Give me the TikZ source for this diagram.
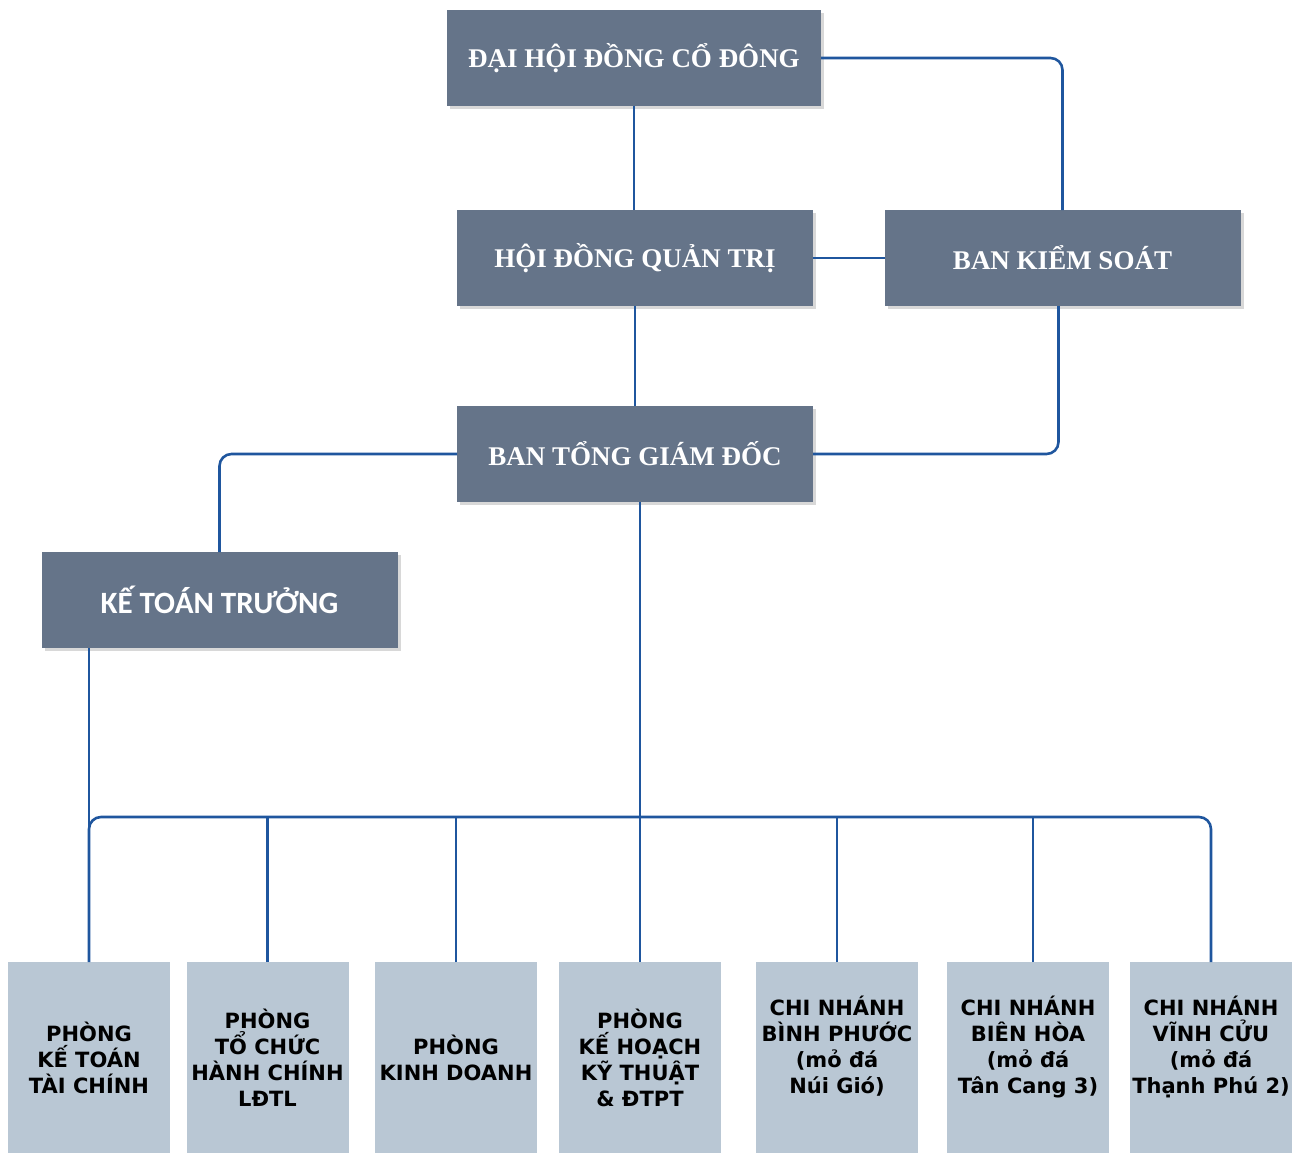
\documentclass[tikz,border=0pt]{standalone}
\usepackage{fontspec}
\setmainfont{Liberation Serif}
\newfontfamily\labelfont{Carlito}
\newfontfamily\deptfont{DejaVu Sans}
\usepackage{tikz}
\usetikzlibrary{shadows}
\usetikzlibrary{calc}
\definecolor{boxdark}{RGB}{101,116,137}
\definecolor{boxlight}{RGB}{185,199,212}
\definecolor{linkblue}{RGB}{31,86,158}
\tikzstyle{topbox} = [rectangle, minimum width=356pt, minimum height=96pt, inner sep=0pt, outer sep=0pt, text centered, fill=boxdark, text=white, drop shadow={shadow xshift=3pt, shadow yshift=-3pt, fill=black!30}, font=\bfseries\fontsize{27}{31}\selectfont]
\tikzstyle{lowbox} = [rectangle, minimum width=162pt, minimum height=191pt, inner sep=0pt, outer sep=0pt, align=center, fill=boxlight, text=black, font=\deptfont\bfseries\fontsize{21}{26}\selectfont]
\tikzstyle{line} = [draw=linkblue, line width=2.6pt, rounded corners=12pt]

\begin{document}
\begin{tikzpicture}[x=1pt, y=-1pt]

    \useasboundingbox (0,0) rectangle (1298,1153);

    % upper levels
    \node (meeting) [topbox, minimum width=374pt] at (634,58) {ĐẠI HỘI ĐỒNG CỔ ĐÔNG};
    \node (board) [topbox] at (635,258) {HỘI ĐỒNG QUẢN TRỊ};
    \node (control) [topbox] at (1062.5,258) {BAN KIỂM SOÁT};
    \node (director) [topbox] at (635,454) {BAN TỔNG GIÁM ĐỐC};
    \node (accountant) [topbox, font=\labelfont\bfseries\fontsize{31}{35}\selectfont] at (219.5,600) {KẾ TOÁN TRƯỞNG};

    % departments and branches
    \node (dept1) [lowbox] at (89,1057.5) {PHÒNG\\KẾ TOÁN\\TÀI CHÍNH};
    \node (dept2) [lowbox] at (267.5,1057.5) {PHÒNG\\TỔ CHỨC\\HÀNH CHÍNH\\LĐTL};
    \node (dept3) [lowbox] at (456,1057.5) {PHÒNG\\KINH DOANH};
    \node (dept4) [lowbox] at (640,1057.5) {PHÒNG\\KẾ HOẠCH\\KỸ THUẬT\\\& ĐTPT};
    \node (branch1) [lowbox] at (837,1057.5) {CHI NHÁNH\\BÌNH PHƯỚC\\(mỏ đá\\Núi Gió)\\\mbox{}};
    \node (branch2) [lowbox] at (1028,1057.5) {CHI NHÁNH\\BIÊN HÒA\\(mỏ đá\\Tân Cang 3)\\\mbox{}};
    \node (branch3) [lowbox] at (1211,1057.5) {CHI NHÁNH\\VĨNH CỬU\\(mỏ đá\\Thạnh Phú 2)\\\mbox{}};

    \coordinate (bus) at (640,817);

    \draw [line] (meeting.south) -- (meeting.south |- board.north);
    \draw [line] (meeting.east) -| (control.north);
    \draw [line] (board.east) -- (control.west);
    \draw [line] (board.south) -- (director.north);
    \draw [line] ([xshift=-4pt]control.south) |- (director.east);
    \draw [line] (director.west) -| (accountant.north);
    \draw [line] (director.south -| dept4.north) -- (dept4.north);
    \draw [line] (accountant.south -| dept1.north) -- (dept1.north);

    \draw [line] (dept1.north) |- (bus) -| (branch3.north);
    \draw [line] (dept2.north) -- (dept2.north |- bus);
    \draw [line] (dept3.north) -- (dept3.north |- bus);
    \draw [line] (branch1.north) -- (branch1.north |- bus);
    \draw [line] ([xshift=5pt]branch2.north) -- ([xshift=5pt]branch2.north |- bus);

\end{tikzpicture}
\end{document}
